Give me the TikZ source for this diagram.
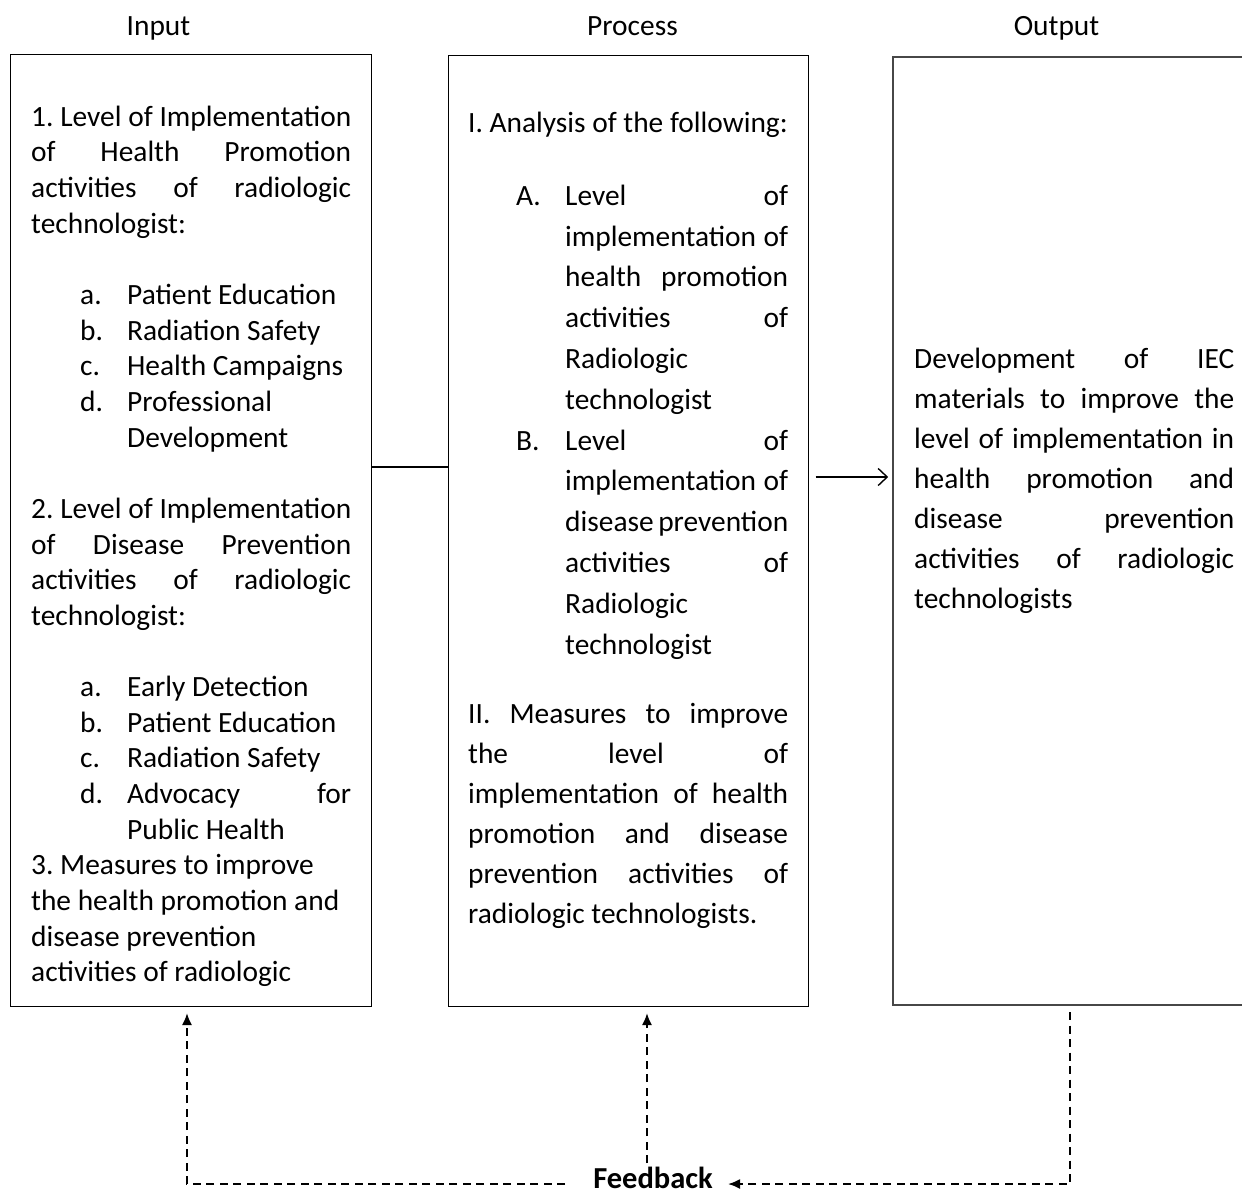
\documentclass[tikz,border=0pt]{standalone}
\usepackage{fontspec}
\setmainfont{Carlito}
\usetikzlibrary{arrows.meta}
\newcommand\resetsp{\spaceskip=0pt\xspaceskip=0pt\hyphenpenalty=10000\exhyphenpenalty=10000\relax}
\newcommand\bodyA{\fontsize{29.4}{35.65}\selectfont\frenchspacing}
\newcommand\bodyB{\fontsize{29.4}{40.8}\selectfont\frenchspacing}
\newcommand\bodyC{\fontsize{29.4}{40}\selectfont\frenchspacing}
\newcommand\jl[2][320pt]{\makebox[#1][s]{\resetsp #2}}
\newcommand\inItem[3][s]{\hspace*{49pt}\makebox[47pt][l]{#2}\makebox[224pt][#1]{\resetsp #3}}
\newcommand\prItem[3][s]{\hspace*{48pt}\makebox[49pt][l]{#2}\makebox[223pt][#1]{\resetsp #3}}
\newcommand\firstrule{\rule{0pt}{24pt}}
\begin{document}
\begin{tikzpicture}[x=1pt,y=-1pt,
  framebox/.style={draw=black,line width=1pt,inner sep=0pt,fill=none},
  outframe/.style={draw=black!72,line width=1.6pt,inner sep=0pt},
  txt/.style={anchor=north west,inner sep=0pt,text width=320pt,align=left},
  head/.style={anchor=base,inner sep=0pt,font=\bodyA},
  fbdash/.style={line width=1.9pt,dash pattern=on 8pt off 5.5pt,-{Latex[length=12pt,width=10pt]}}]
\useasboundingbox (0,0) rectangle (1242,1194);
\fill[white] (0,0) rectangle (1242,1194);

% headings
\node[head] (hin) at (158.5,35) {Input};
\node[head] (hpr) at (632.5,35) {Process};
\node[head] (hout) at (1056.5,35) {Output};

% boxes
\node[framebox,minimum width=361pt,minimum height=952pt] (inp) at (190.5,530) {};
\node[framebox,minimum width=360pt,minimum height=951pt] (pro) at (628,530.5) {};
\node[outframe,minimum width=370pt,minimum height=948pt] (out) at (1078,531) {};

% input text
\node[txt,font=\bodyA] (intext) at (31,102) {\resetsp
\firstrule\jl{1. Level of Implementation}\\
\jl{of Health Promotion}\\
\jl{activities of radiologic}\\
technologist:\\
\mbox{}\\
\inItem[l]{a.}{Patient Education}\\
\inItem[l]{b.}{Radiation Safety}\\
\inItem[l]{c.}{Health Campaigns}\\
\inItem[l]{d.}{Professional}\\
\inItem[l]{}{Development}\\
\mbox{}\\
\jl{2. Level of Implementation}\\
\jl{of Disease Prevention}\\
\jl{activities of radiologic}\\
technologist:\\
\mbox{}\\
\inItem[l]{a.}{Early Detection}\\
\inItem[l]{b.}{Patient Education}\\
\inItem[l]{c.}{Radiation Safety}\\
\inItem{d.}{Advocacy for}\\
\inItem[l]{}{Public Health}\\
3. Measures to improve\\
the health promotion and\\
disease prevention\\
activities of radiologic};

% process text
\node[txt,font=\bodyA] (prI) at (468,108) {\resetsp\firstrule I. Analysis of the following:};
\node[txt,font=\bodyB] (prAB) at (468,181) {\resetsp
\firstrule\prItem{A.}{Level of}\\
\prItem{}{implementation of}\\
\prItem{}{health promotion}\\
\prItem{}{activities of}\\
\prItem[l]{}{Radiologic}\\
\prItem[l]{}{technologist}\\
\prItem{B.}{Level of}\\
\prItem{}{implementation of}\\
\prItem{}{disease prevention}\\
\prItem{}{activities of}\\
\prItem[l]{}{Radiologic}\\
\prItem[l]{}{technologist}};
\node[txt,font=\bodyC] (prII) at (468,699.3) {\resetsp
\firstrule\jl{II. Measures to improve}\\
\jl{the level of}\\
\jl{implementation of health}\\
\jl{promotion and disease}\\
\jl{prevention activities of}\\
radiologic technologists.};

% output text
\node[txt,font=\bodyC] (outtext) at (914,344) {\resetsp
\firstrule\jl{Development of IEC}\\
\jl{materials to improve the}\\
\jl{level of implementation in}\\
\jl{health promotion and}\\
\jl{disease prevention}\\
\jl{activities of radiologic}\\
technologists};

% connectors between boxes
\draw[line width=1.8pt] (inp.east |- 0,467) -- (pro.west |- 0,467);
\draw[line width=1.4pt,-{Straight Barb[length=9pt,width=17pt,line width=1.4pt]}] ([xshift=7pt]pro.east |- 0,477) -- ([xshift=-4pt]out.west |- 0,477);

% feedback
\node[anchor=base,inner sep=0pt,font={\fontsize{30.5}{36}\selectfont\bfseries}] (fb) at (653,1188) {Feedback};
\coordinate (fbL) at (565,1184);
\coordinate (fbR) at (728,1184);
\coordinate (fbM) at (647,1163);
\coordinate (outB) at (1070,1012);
\draw[fbdash] (fbL) -| (187,1013);
\draw[fbdash] (fbM) -- (647,1013);
\draw[fbdash] (outB) |- (fbR);
\end{tikzpicture}
\end{document}
